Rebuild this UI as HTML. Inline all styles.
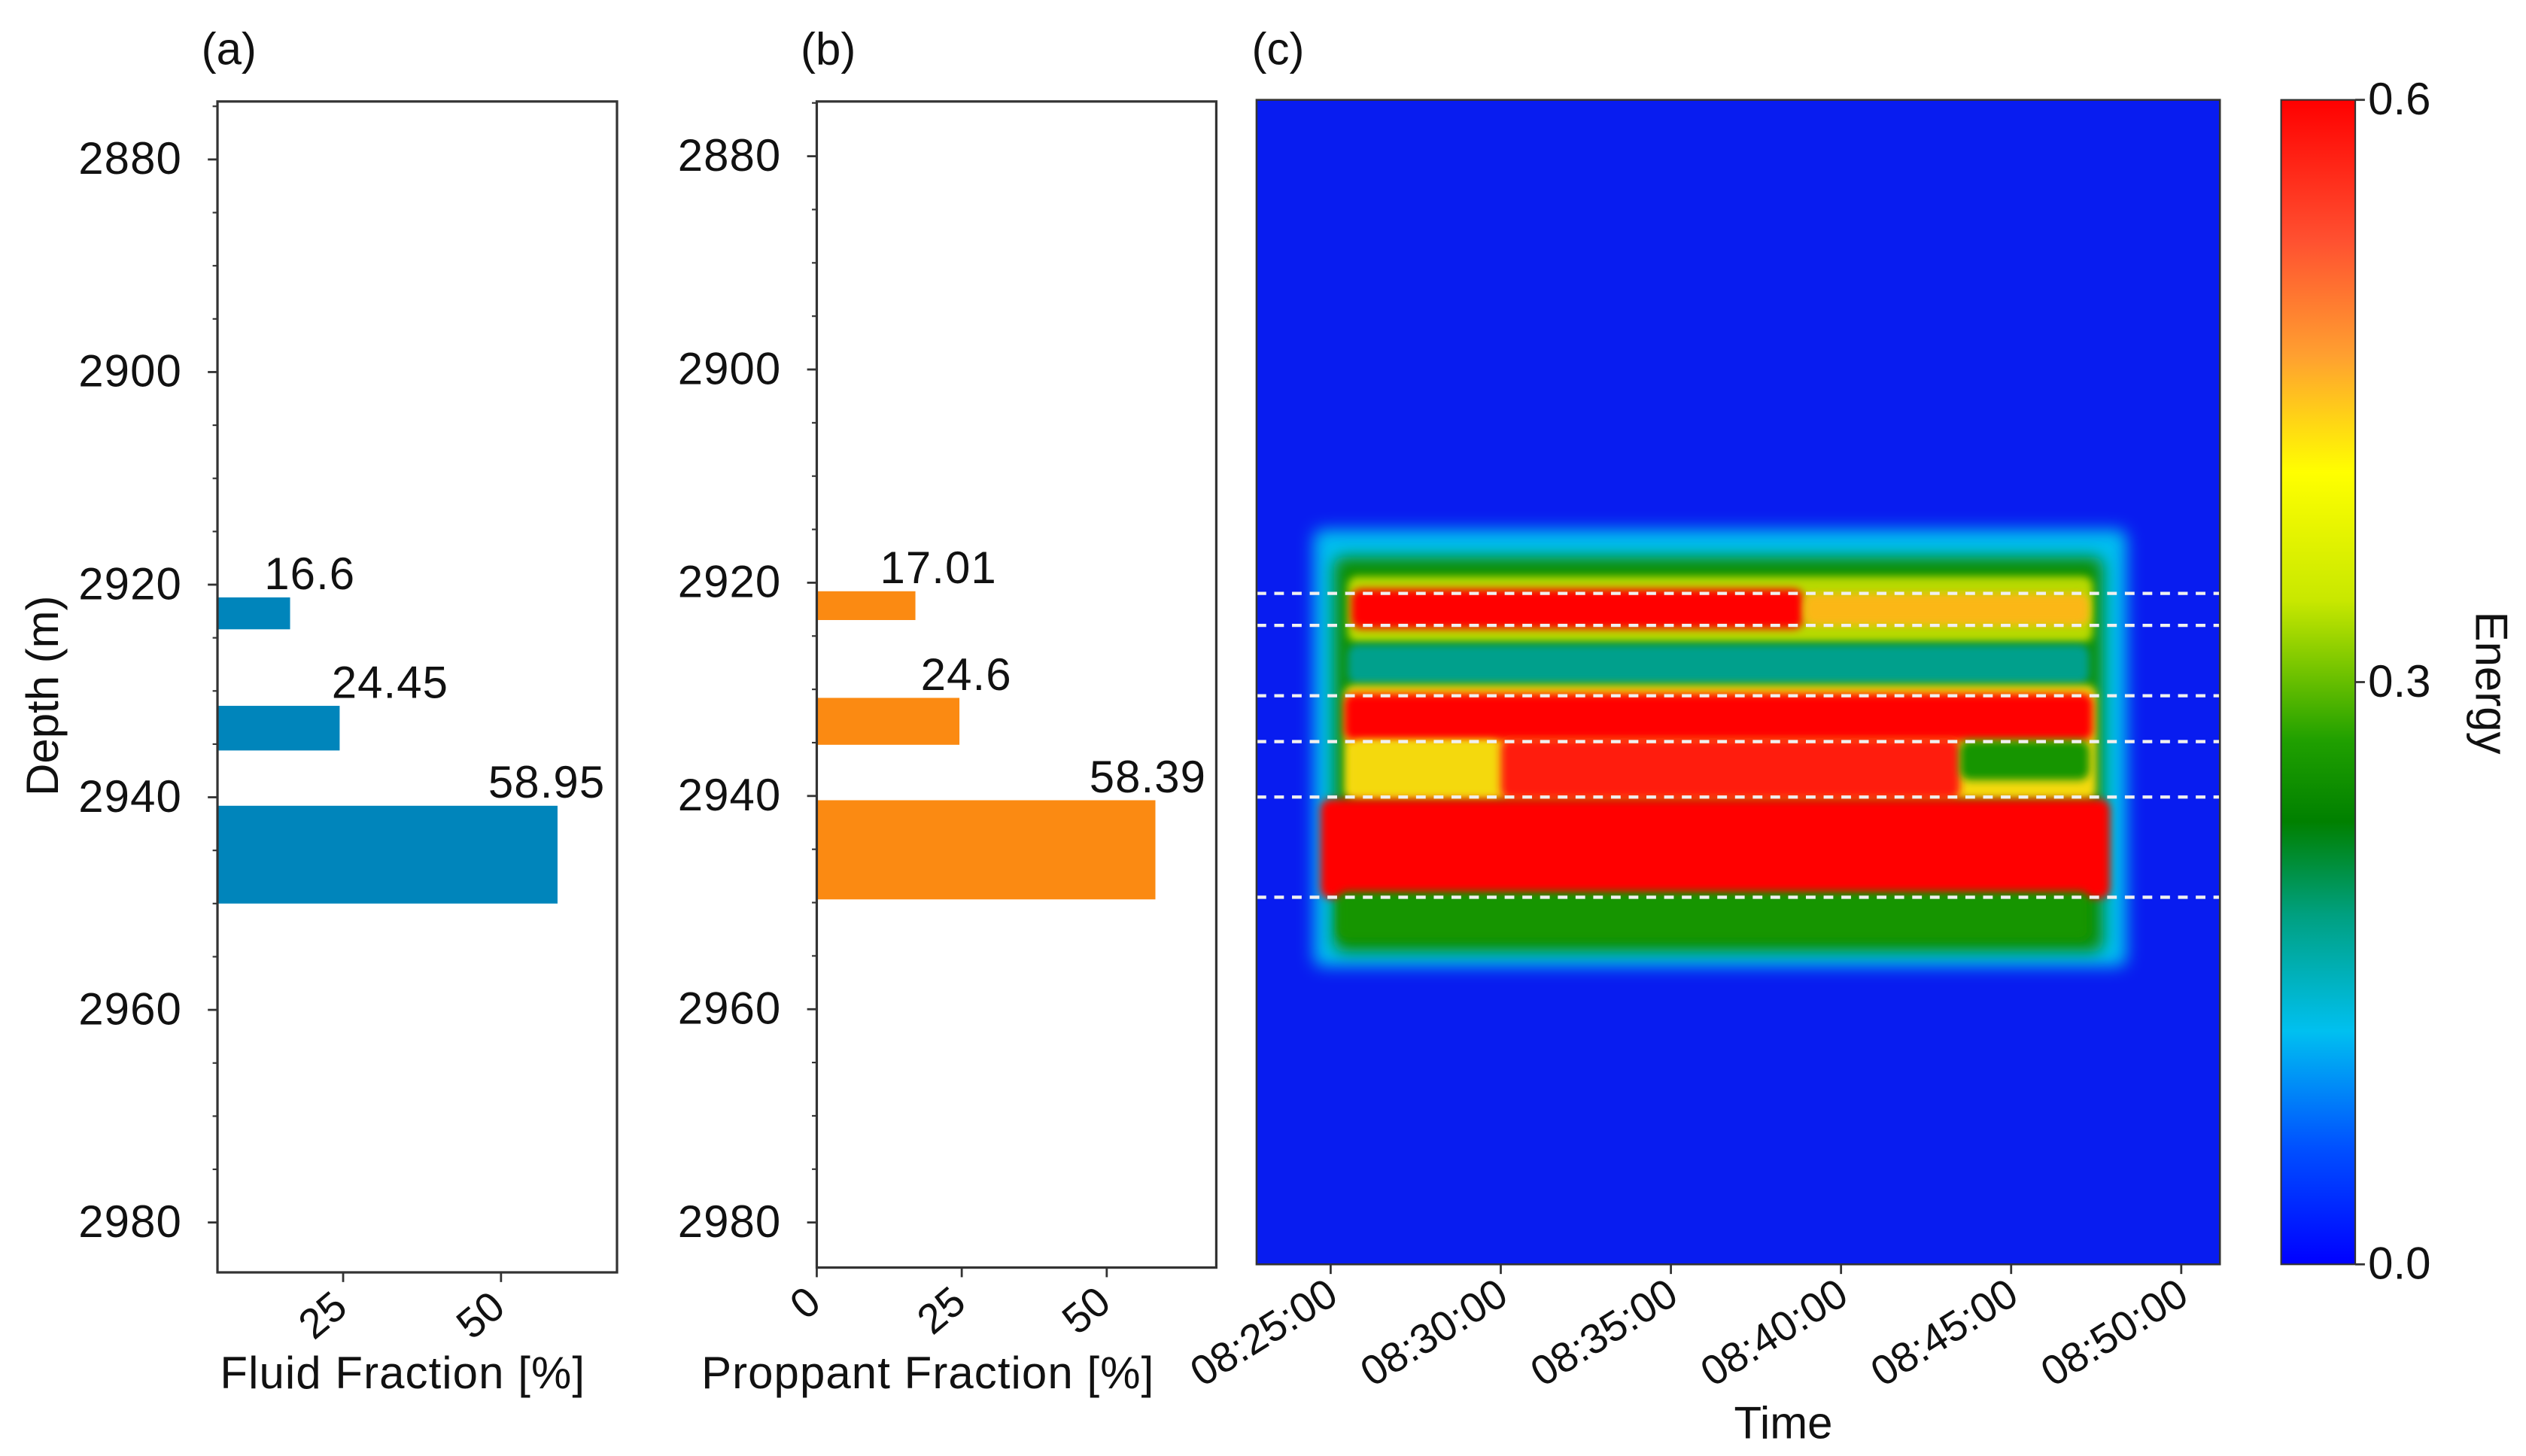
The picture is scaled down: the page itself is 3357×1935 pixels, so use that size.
<!DOCTYPE html>
<html><head><meta charset="utf-8">
<style>
html,body{margin:0;padding:0;background:#fff}
svg{display:block}
text{font-family:"Liberation Sans",Arial,sans-serif;fill:#111}
</style></head>
<body>
<svg id="fig" width="3357" height="1935" viewBox="0 0 1568 904" preserveAspectRatio="none" xmlns="http://www.w3.org/2000/svg">
<defs>
  <filter id="blur2" x="-20%" y="-20%" width="140%" height="140%"><feGaussianBlur stdDeviation="2.5"/></filter>
  <filter id="blur4" x="-20%" y="-20%" width="140%" height="140%"><feGaussianBlur stdDeviation="5"/></filter>
  <linearGradient id="cbar" x1="0" y1="1" x2="0" y2="0">
    <stop offset="0" stop-color="#0000ff"/>
    <stop offset="0.1" stop-color="#0050ff"/>
    <stop offset="0.2" stop-color="#00c0f0"/>
    <stop offset="0.3" stop-color="#00a080"/>
    <stop offset="0.38" stop-color="#008000"/>
    <stop offset="0.45" stop-color="#20a000"/>
    <stop offset="0.57" stop-color="#c8e800"/>
    <stop offset="0.68" stop-color="#ffff00"/>
    <stop offset="0.78" stop-color="#ffa030"/>
    <stop offset="0.88" stop-color="#ff5030"/>
    <stop offset="1" stop-color="#ff0000"/>
  </linearGradient>
  <clipPath id="hmclip"><rect x="780" y="62" width="598" height="723"/></clipPath>
</defs>
<g id="root"></g>
</svg>
<script>
// ---- data ----
const depthTicks = [2880, 2900, 2920, 2940, 2960, 2980];
const fluidValues = [16.6, 24.45, 58.95];
const fluidLabels = ["16.6", "24.45", "58.95"];
const fluidTop = [2921.2, 2931.4, 2940.8];
const fluidBottom = [2924.2, 2935.6, 2950.0];
const fluidTicks = [25, 50];
const propValues = [17.01, 24.6, 58.39];
const propLabels = ["17.01", "24.6", "58.39"];
const propTop = [2920.8, 2930.8, 2940.4];
const propBottom = [2923.5, 2935.2, 2949.7];
const propTicks = [0, 25, 50];
const timeTicks = [25, 30, 35, 40, 45, 50];
const timeTickLabels = ["08:25:00","08:30:00","08:35:00","08:40:00","08:45:00","08:50:00"];
const dashDepths = [2921.0, 2924.0, 2930.6, 2934.9, 2940.1, 2949.5];
// heatmap regions: start time, end time (min after 08:00), top depth, bottom depth, energy
const regStart = [24.5, 25.1, 25.5, 25.6, 38.9, 25.5, 25.4, 25.4, 25.6, 30.0, 43.5, 24.7, 25.2];
const regEnd   = [48.4, 47.7, 47.4, 38.9, 47.3, 47.3, 47.5, 47.4, 30.0, 43.5, 47.3, 47.9, 47.3];
const regTop   = [2915.0, 2917.6, 2919.4, 2920.6, 2921.0, 2925.8, 2929.6, 2930.4, 2934.8, 2934.6, 2934.8, 2940.3, 2949.0];
const regBot   = [2956.0, 2954.6, 2925.6, 2924.3, 2924.0, 2929.5, 2940.4, 2934.8, 2940.2, 2940.3, 2938.5, 2949.6, 2953.5];
const regEnergy= [0.16, 0.28, 0.38, 0.6, 0.45, 0.2, 0.42, 0.6, 0.42, 0.57, 0.3, 0.6, 0.3];
const cbTicks = [0.0, 0.3, 0.6];
const cbLabels = ["0.0", "0.3", "0.6"];

const NS = "http://www.w3.org/2000/svg";
const root = document.getElementById("root");
function mk(tag, attrs, parent, txt){
  const e = document.createElementNS(NS, tag);
  for (const k in attrs) e.setAttribute(k, attrs[k]);
  if (txt !== undefined) e.textContent = txt;
  (parent||root).appendChild(e);
  return e;
}
const FS = 28;

function barPanel(opt){
  const g = mk("g", {});
  
  
  const yS = d => opt.y0 + (d - 2880) * opt.py;
  const xS = v => opt.x0 + (v - opt.vmin) * opt.px;
  for (let d = 2875; d <= 2985; d += 5){
    const y = yS(d);
    if (y < opt.top || y > opt.bottom) continue;
    const t = mk("line", {x1: opt.left-3, x2: opt.left, y1: y, y2: y, stroke:"#333", "stroke-width":1}, g);
    
    
  }
  depthTicks.forEach(d => {
    const y = yS(d);
    const t = mk("line", {x1: opt.left-6, x2: opt.left, y1: y, y2: y, stroke:"#333", "stroke-width":1.3}, g);
    
    
    const l = mk("text", {x: opt.left-22, y: y+9, "text-anchor":"end", "font-size":FS, "letter-spacing":0.5}, g, String(d));
    
    
  });
  opt.values.forEach((v,i) => {
    const y1 = yS(opt.tops[i]), y2 = yS(opt.bots[i]);
    const b = mk("rect", {x: opt.left, y: y1, width: xS(v)-opt.left, height: y2-y1, fill: opt.color}, g);
    
    
    const l = mk("text", {x: xS(v)+opt.lblOff[i], y: y1-5, "text-anchor":"start", "font-size":FS, "letter-spacing":0.5}, g, opt.labels[i]);
    
    
  });
  const box = mk("rect", {x: opt.left, y: opt.top, width: opt.right-opt.left, height: opt.bottom-opt.top, fill:"none", stroke:"#333", "stroke-width":1.5}, g);
  
  
  opt.xticks.forEach(v => {
    const x = xS(v);
    const t = mk("line", {x1:x, x2:x, y1: opt.bottom, y2: opt.bottom+6, stroke:"#333", "stroke-width":1.3}, g);
    
    
    const l = mk("text", {x:x+4, y: opt.bottom+24, "text-anchor":"end", "font-size":26, transform:`rotate(-40 ${x+4} ${opt.bottom+24})`}, g, String(v));
    
    
  });
  const xt = mk("text", {x: opt.xtitleX, y: 862, "text-anchor":"middle", "font-size":FS, "letter-spacing":0.5}, g, opt.xtitle);
  
  
  const pl = mk("text", {x: opt.left-10, y: 40, "font-size":FS}, g, opt.panel);
  
  
}

barPanel({name:"fluid-fraction-panel", left:135, right:383, top:63, bottom:790, y0:99, py:6.6, x0:115, vmin:0, px:3.92,
  values:fluidValues, labels:fluidLabels, tops:fluidTop, bots:fluidBottom, color:"#0085bb", xticks:fluidTicks,
  lblOff:[-16,-5,-43], xtitle:"Fluid Fraction [%]", xtitleX:250, panel:"(a)"});
barPanel({name:"proppant-fraction-panel", left:507, right:755, top:63, bottom:787, y0:97, py:6.62, x0:507, vmin:0, px:3.6,
  values:propValues, labels:propLabels, tops:propTop, bots:propBottom, color:"#fb8a12", xticks:propTicks,
  lblOff:[-22,-24,-41], xtitle:"Proppant Fraction [%]", xtitleX:576, panel:"(b)"});

const yl = mk("text", {x:0, y:0, "text-anchor":"middle", "font-size":FS, transform:"translate(36 432) rotate(-90)"}, root, "Depth (m)");



// ---- heatmap ----
const hx = t => 826 + (t - 25) * 21.12;
const hy = d => 97 + (d - 2880) * 6.62;
function energyColor(e){
  const stops = [[0,[0,20,240]],[0.08,[0,80,255]],[0.16,[0,190,240]],[0.2,[0,160,140]],[0.26,[0,135,0]],[0.33,[40,160,0]],[0.4,[240,240,0]],[0.47,[255,160,30]],[0.53,[255,70,30]],[0.6,[255,0,0]]];
  for (let i=1;i<stops.length;i++){
    if (e <= stops[i][0]){
      const [a,ca]=stops[i-1],[b,cb]=stops[i]; const f=(e-a)/(b-a);
      return `rgb(${ca.map((c,j)=>Math.round(c+(cb[j]-c)*f)).join(",")})`;
    }
  }
  return "rgb(255,0,0)";
}
const hm = mk("g", {"clip-path":"url(#hmclip)"});


const bg = mk("rect", {x:780, y:62, width:598, height:723, fill:"rgb(8,28,240)"}, hm);


regStart.forEach((s,i) => {
  const r = mk("rect", {x: hx(s), y: hy(regTop[i]), width: hx(regEnd[i])-hx(s), height: hy(regBot[i])-hy(regTop[i]),
    fill: energyColor(regEnergy[i]), rx: 6, filter: i<2 ? "url(#blur4)" : "url(#blur2)"}, hm);
  
  
});
dashDepths.forEach(d => {
  const l = mk("line", {x1:780, x2:1378, y1:hy(d), y2:hy(d), stroke:"#f0f0f0", "stroke-width":2, "stroke-dasharray":"6 5"}, hm);
  
  
});
const hf = mk("rect", {x:780, y:62, width:598, height:723, fill:"none", stroke:"#333", "stroke-width":1.2});


timeTicks.forEach((t,i) => {
  const x = hx(t);
  const tk = mk("line", {x1:x, x2:x, y1:785, y2:791, stroke:"#333", "stroke-width":1.3});
  
  
  const l = mk("text", {x:x+6, y:808, "text-anchor":"end", "font-size":26, transform:`rotate(-32 ${x+6} 808)`}, root, timeTickLabels[i]);
  
  
});
const tt = mk("text", {x:1107, y:893, "text-anchor":"middle", "font-size":FS}, root, "Time");


const pc = mk("text", {x:777, y:40, "font-size":FS}, root, "(c)");



// ---- colorbar ----
const cb = mk("rect", {x:1416, y:62, width:46, height:723, fill:"url(#cbar)", stroke:"#333", "stroke-width":1});


const cy = v => 785 - (v / 0.6) * 723;
cbTicks.forEach((v,i) => {
  const y = cy(v);
  const tk = mk("line", {x1:1462, x2:1468, y1:y, y2:y, stroke:"#333", "stroke-width":1.3});
  
  
  const l = mk("text", {x:1470, y:y+9, "font-size":FS}, root, cbLabels[i]);
  
  
});
const et = mk("text", {x:0, y:0, "text-anchor":"middle", "font-size":FS, transform:"translate(1537 424) rotate(90)"}, root, "Energy");


</script>
</body></html>
